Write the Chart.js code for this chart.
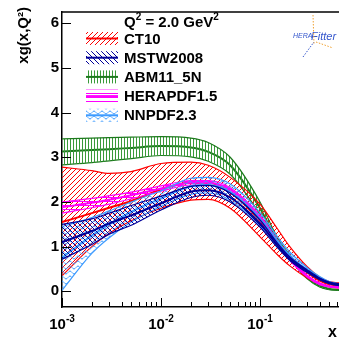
<!DOCTYPE html>
<html>
<head>
<meta charset="utf-8">
<script src="https://cdn.jsdelivr.net/npm/chart.js@4.4.1/dist/chart.umd.min.js"></script>
<style>
html, body { margin: 0; padding: 0; background: #fff; }
#wrap { width: 339px; height: 338px; }
</style>
</head>
<body>
<div id="wrap"><canvas id="c"></canvas></div>
<script>
// x grid (log scale)
const xs = [0.001, 0.002, 0.003, 0.005, 0.01, 0.02, 0.03, 0.05, 0.1, 0.15, 0.2, 0.3, 0.4, 0.5, 0.628];

const ct10Up  = [2.78, 2.70, 2.64, 2.68, 2.86, 2.89, 2.82, 2.55, 1.95, 1.40, 1.00, 0.55, 0.32, 0.22, 0.19];
const ct10Mid = [1.55, 1.75, 1.87, 2.02, 2.28, 2.43, 2.43, 2.22, 1.58, 1.10, 0.77, 0.42, 0.24, 0.16, 0.13];
const ct10Lo  = [0.35, 1.00, 1.30, 1.58, 1.86, 2.04, 2.06, 1.86, 1.22, 0.82, 0.57, 0.30, 0.16, 0.10, 0.08];

const mstwUp  = [1.50, 1.62, 1.75, 1.92, 2.13, 2.35, 2.37, 2.20, 1.60, 1.08, 0.77, 0.48, 0.30, 0.21, 0.17];
const mstwMid = [1.10, 1.35, 1.52, 1.70, 1.97, 2.23, 2.26, 2.10, 1.52, 1.03, 0.73, 0.45, 0.28, 0.19, 0.15];
const mstwLo  = [0.72, 1.05, 1.28, 1.48, 1.82, 2.10, 2.15, 2.00, 1.44, 0.98, 0.69, 0.42, 0.26, 0.17, 0.13];

const abmUp  = [3.41, 3.43, 3.44, 3.45, 3.46, 3.43, 3.33, 3.00, 2.00, 1.20, 0.82, 0.34, 0.14, 0.06, 0.04];
const abmMid = [3.13, 3.16, 3.18, 3.21, 3.25, 3.22, 3.12, 2.82, 1.86, 1.12, 0.77, 0.31, 0.12, 0.05, 0.03];
const abmLo  = [2.83, 2.88, 2.92, 2.97, 3.04, 3.01, 2.91, 2.62, 1.72, 1.05, 0.72, 0.28, 0.10, 0.04, 0.02];

const heraUp  = [2.00, 2.08, 2.14, 2.22, 2.36, 2.48, 2.48, 2.32, 1.70, 1.14, 0.75, 0.36, 0.19, 0.12, 0.10];
const heraMid = [1.88, 1.98, 2.05, 2.15, 2.30, 2.43, 2.43, 2.28, 1.65, 1.10, 0.72, 0.34, 0.17, 0.11, 0.09];
const heraLo  = [1.75, 1.87, 1.95, 2.07, 2.24, 2.38, 2.38, 2.23, 1.60, 1.06, 0.69, 0.32, 0.15, 0.10, 0.08];

const nnpdfUp  = [1.45, 1.65, 1.80, 2.00, 2.25, 2.53, 2.55, 2.40, 1.76, 1.22, 0.88, 0.53, 0.33, 0.22, 0.17];
const nnpdfMid = [0.75, 1.25, 1.50, 1.78, 2.08, 2.35, 2.38, 2.22, 1.62, 1.12, 0.80, 0.48, 0.30, 0.20, 0.15];
const nnpdfLo  = [0.02, 0.85, 1.20, 1.55, 1.90, 2.17, 2.20, 2.04, 1.48, 1.02, 0.72, 0.43, 0.27, 0.18, 0.13];

const yTicks = [0, 1, 2, 3, 4, 5, 6];
const xDecades = [0.001, 0.01, 0.1];
const xDecadeLabels = ['-3', '-2', '-1'];
const legendHeader = 'Q\u00b2 = 2.0 GeV\u00b2';

const FONT = '"Liberation Sans", Arial, Helvetica, sans-serif';
const RED = '#ff0000', NAVY = '#000099', GREEN = '#1d7a1d', MAG = '#ff00ff', AZURE = '#3d9bff';

const canvas = document.getElementById('c');
const mainCtx = canvas.getContext('2d');

function makePattern(color, kind) {
    const t = document.createElement('canvas');
    const g = t.getContext('2d');
    if (kind === '/') {
        t.width = t.height = 5;
        g.strokeStyle = color; g.lineWidth = 1;
        g.beginPath();
        g.moveTo(0, 5); g.lineTo(5, 0);
        g.moveTo(-1, 1); g.lineTo(1, -1);
        g.moveTo(4, 6); g.lineTo(6, 4);
        g.stroke();
    } else if (kind === '\\') {
        t.width = t.height = 5;
        g.strokeStyle = color; g.lineWidth = 1;
        g.beginPath();
        g.moveTo(0, 0); g.lineTo(5, 5);
        g.moveTo(4, -1); g.lineTo(6, 1);
        g.moveTo(-1, 4); g.lineTo(1, 6);
        g.stroke();
    } else if (kind === '|') {
        t.width = 3; t.height = 3;
        g.fillStyle = color;
        g.fillRect(1, 0, 1, 3);
    } else if (kind === '-') {
        t.width = 3; t.height = 4;
        g.fillStyle = color;
        g.fillRect(0, 1, 3, 1);
    } else {
        t.width = 8; t.height = 5;
        g.strokeStyle = color; g.lineWidth = 1;
        g.beginPath();
        for (let i = -1; i <= 9; i++) {
            const y = 2.5 + 1.5 * Math.sin(2 * Math.PI * i / 8);
            if (i === -1) g.moveTo(i, y); else g.lineTo(i, y);
        }
        g.stroke();
    }
    return mainCtx.createPattern(t, 'repeat');
}

const pats = {
    ct10: makePattern(RED, '/'),
    mstw: makePattern(NAVY, '\\'),
    abm: makePattern('#3a9a3a', '|'),
    hera: makePattern(MAG, '-'),
    nnpdf: makePattern(AZURE, 'wave')
};

function xy(arr) {
    return arr.map((v, i) => ({ x: xs[i], y: v }));
}

function band(name, up, mid, lo, color, pat) {
    return [
        { label: name + ' up', data: xy(up), borderColor: color, borderWidth: 1.2, backgroundColor: pat, fill: '+1' },
        { label: name + ' lo', data: xy(lo), borderColor: color, borderWidth: 1.2, fill: false },
        { label: name, data: xy(mid), borderColor: color, borderWidth: 2, fill: false }
    ];
}

// first in array = drawn on top
const datasets = [].concat(
    band('MSTW2008', mstwUp, mstwMid, mstwLo, NAVY, pats.mstw),
    band('NNPDF2.3', nnpdfUp, nnpdfMid, nnpdfLo, AZURE, pats.nnpdf),
    band('HERAPDF1.5', heraUp, heraMid, heraLo, MAG, pats.hera),
    band('CT10', ct10Up, ct10Mid, ct10Lo, RED, pats.ct10),
    band('ABM11_5N', abmUp, abmMid, abmLo, GREEN, pats.abm)
);

const legendRows = [
    { name: 'CT10', color: RED, pat: pats.ct10 },
    { name: 'MSTW2008', color: NAVY, pat: pats.mstw },
    { name: 'ABM11_5N', color: GREEN, pat: pats.abm },
    { name: 'HERAPDF1.5', color: MAG, pat: pats.hera },
    { name: 'NNPDF2.3', color: AZURE, pat: pats.nnpdf }
];

const decorations = {
    id: 'decorations',
    afterDraw(chart) {
        const ctx = chart.ctx;
        const xs_ = chart.scales.x, ys_ = chart.scales.y;
        const area = chart.chartArea;
        ctx.save();
        ctx.strokeStyle = '#000';
        ctx.lineWidth = 1.5;
        // top frame
        ctx.beginPath();
        ctx.moveTo(area.left, area.top); ctx.lineTo(area.right, area.top);
        ctx.stroke();

        // x ticks, inward
        ctx.lineWidth = 1;
        ctx.beginPath();
        xDecades.forEach(d => {
            for (let m = 1; m <= 9; m++) {
                const v = d * m;
                if (v > xs_.max) break;
                const px = Math.round(xs_.getPixelForValue(v)) + 0.5;
                const len = m === 1 ? 9 : 5;
                ctx.moveTo(px, area.bottom); ctx.lineTo(px, area.bottom - len);
            }
        });
        // y ticks, inward
        yTicks.forEach(v => {
            const py = Math.round(ys_.getPixelForValue(v)) + 0.5;
            ctx.moveTo(area.left, py); ctx.lineTo(area.left + 9, py);
        });
        ctx.stroke();

        // x tick labels 10^n
        ctx.fillStyle = '#000';
        ctx.textBaseline = 'alphabetic';
        xDecades.forEach((d, i) => {
            const px = xs_.getPixelForValue(d);
            ctx.font = 'bold 15px ' + FONT;
            const w1 = ctx.measureText('10').width;
            ctx.font = 'bold 10px ' + FONT;
            const w2 = ctx.measureText(xDecadeLabels[i]).width;
            const x0 = px - (w1 + w2) / 2;
            ctx.textAlign = 'left';
            ctx.font = 'bold 15px ' + FONT;
            ctx.fillText('10', x0, 329);
            ctx.font = 'bold 10px ' + FONT;
            ctx.fillText(xDecadeLabels[i], x0 + w1, 322);
        });

        // axis titles
        ctx.font = 'bold 16px ' + FONT;
        ctx.textAlign = 'right';
        ctx.fillText('x', 337, 337);
        ctx.save();
        ctx.translate(28, 7);
        ctx.rotate(-Math.PI / 2);
        ctx.font = 'bold 15px ' + FONT;
        ctx.textAlign = 'right';
        ctx.fillText('xg(x,Q\u00b2)', 0, 0);
        ctx.restore();

        // legend header
        ctx.textAlign = 'left';
        let hx = 124;
        const parts = [['Q', 15, 27], ['2', 10, 20], [' = 2.0 GeV', 15, 27], ['2', 10, 20]];
        parts.forEach(p => {
            ctx.font = 'bold ' + p[1] + 'px ' + FONT;
            ctx.fillText(p[0], hx, p[2]);
            hx += ctx.measureText(p[0]).width;
        });

        // legend entries
        legendRows.forEach((r, i) => {
            const cy = 38.5 + i * 19.2;
            ctx.fillStyle = r.pat;
            ctx.fillRect(86, cy - 6.5, 32, 13);
            ctx.strokeStyle = r.color;
            ctx.lineWidth = 2;
            ctx.beginPath();
            ctx.moveTo(86, cy); ctx.lineTo(118, cy);
            ctx.stroke();
            ctx.fillStyle = '#000';
            ctx.font = 'bold 15px ' + FONT;
            ctx.textBaseline = 'middle';
            ctx.fillText(r.name, 124, cy + 1);
        });

        // HERAFitter logo
        ctx.textBaseline = 'alphabetic';
        ctx.fillStyle = '#3355cc';
        ctx.font = 'italic 7px ' + FONT;
        ctx.fillText('HERA', 293, 38);
        ctx.font = 'italic 11px ' + FONT;
        ctx.fillText('Fitter', 311, 40);
        ctx.setLineDash([1.5, 1.5]);
        ctx.strokeStyle = '#f0a030';
        ctx.lineWidth = 1;
        ctx.beginPath();
        ctx.moveTo(313, 15); ctx.lineTo(314, 44);
        ctx.moveTo(316, 42); ctx.lineTo(333, 48);
        ctx.stroke();
        ctx.strokeStyle = '#3355cc';
        ctx.beginPath();
        ctx.moveTo(303, 57); ctx.lineTo(311, 46); ctx.lineTo(314, 42);
        ctx.stroke();
        ctx.setLineDash([]);
        ctx.restore();
    }
};

new Chart(canvas, {
    type: 'line',
    data: { datasets: datasets },
    options: {
        responsive: true,
        maintainAspectRatio: false,
        animation: false,
        layout: { padding: { top: 7, right: 0, left: 0, bottom: 0 } },
        elements: {
            point: { radius: 0 },
            line: { cubicInterpolationMode: 'monotone' }
        },
        plugins: {
            legend: { display: false },
            tooltip: { enabled: false }
        },
        scales: {
            x: {
                type: 'logarithmic',
                min: 0.001,
                max: 0.628,
                grid: { display: false, drawTicks: false },
                border: { display: true, color: '#000', width: 1.5 },
                ticks: { display: false },
                afterBuildTicks: s => { s.ticks = xDecades.map(v => ({ value: v })); },
                afterFit: s => { s.height = 31; }
            },
            y: {
                type: 'linear',
                min: -0.35,
                max: 6.25,
                grid: { display: false, drawTicks: false },
                border: { display: true, color: '#000', width: 1.5 },
                ticks: { color: '#000', padding: 3, font: { family: FONT, size: 15, weight: 'bold' } },
                afterBuildTicks: s => { s.ticks = yTicks.map(v => ({ value: v })); },
                afterFit: s => { s.width = 62; }
            }
        }
    },
    plugins: [decorations]
});
</script>
</body>
</html>
